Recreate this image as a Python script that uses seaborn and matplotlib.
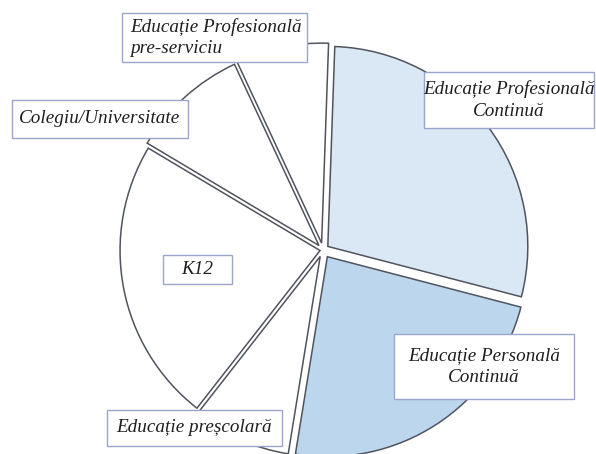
import matplotlib
matplotlib.use("Agg")
import matplotlib.pyplot as plt
import seaborn as sns
from matplotlib.patches import Rectangle

# ---- data ----
categories = ["Educație Profesională\nContinuă", "Educație Personală\nContinuă",
              "Educație preșcolară", "K12", "Colegiu/Universitate",
              "Educație Profesională\npre-serviciu"]
shares = [28.5, 23.5, 8, 23, 9.5, 7.5]

# ---- style ----
colors = ["#dae8f5", "#bcd6ee", "#ffffff", "#ffffff", "#ffffff", "#ffffff"]
explode = [0.03, 0.04, 0.035, 0.015, 0.03, 0.035]
# label boxes in pixel coords: (left, top, right, bottom, text x, ha)
boxes = [
    (424, 72, 594, 128, 509, "center"),
    (394, 334, 574, 399, 484, "center"),
    (107, 410, 282, 446, 194, "center"),
    (163, 255, 232, 284, 197, "center"),
    (12, 100, 188, 138, 100, "center"),
    (122, 13, 307, 62, 130, "left"),
]

W, H = 596, 454
sns.set_theme(style="white")
plt.rcParams["font.family"] = ["Liberation Serif", "DejaVu Serif"]

fig = plt.figure(figsize=(W / 100, H / 100), dpi=100)
ax = fig.add_axes([0, 0, 1, 1])

cx, cy, R = 323, 250, 200
ax.pie(shares, colors=colors, explode=explode, startangle=88, counterclock=False,
       radius=1.0, center=(0, 0),
       wedgeprops=dict(edgecolor="#50545e", linewidth=1.1))
ax.set_xlim(-cx / R, (W - cx) / R)
ax.set_ylim(-(H - cy) / R, cy / R)
ax.set_aspect("equal")
ax.axis("off")

for (l, t, r, b, tx, ha), label in zip(boxes, categories):
    fig.patches.append(Rectangle((l / W, 1 - b / H), (r - l) / W, (b - t) / H,
                                 transform=fig.transFigure, facecolor="white",
                                 edgecolor="#9ba5cc", linewidth=1.0, zorder=3))
    fig.text(tx / W, 1 - (t + b) / 2 / H, label, ha=ha, va="center",
             multialignment=ha, fontsize=13.8, style="italic", color="#1e1e1e",
             linespacing=1.35, zorder=4)

fig.savefig("out.png", dpi=100)
